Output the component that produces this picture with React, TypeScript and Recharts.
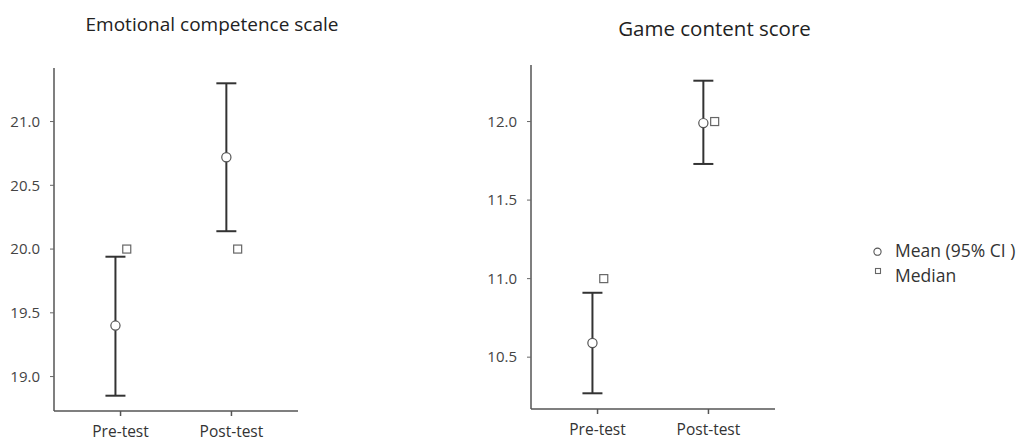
import React from "react";
import { ScatterChart, Scatter, XAxis, YAxis, ErrorBar } from "recharts";

const categories = ["Pre-test", "Post-test"];

const emoMean = [19.4, 20.72];
const emoLow = [18.85, 20.14];
const emoHigh = [19.94, 21.3];
const emoMedian = [20.0, 20.0];
const emoTicks = [19.0, 19.5, 20.0, 20.5, 21.0];

const gameMean = [10.59, 11.99];
const gameLow = [10.27, 11.73];
const gameHigh = [10.91, 12.26];
const gameMedian = [11.0, 12.0];
const gameTicks = [10.5, 11.0, 11.5, 12.0];

const FONT = "'Open Sans', 'Noto Sans', sans-serif";
const MEAN_DODGE = -0.046;
const MEDIAN_DODGE = 0.056;

type PanelProps = {
  mean: number[];
  low: number[];
  high: number[];
  median: number[];
  ticks: number[];
  domain: [number, number];
  left: number;
  width: number;
  top: number;
  bottom: number;
  yAxisWidth: number;
  right: number;
};

const MeanShape = (p: any) => (
  <circle cx={p.cx} cy={p.cy} r={4.6} fill="#fff" stroke="#555" strokeWidth={1.2} />
);
const MedianShape = (p: any) => (
  <rect x={p.cx - 4} y={p.cy - 4} width={8} height={8} fill="#fff" stroke="#666" strokeWidth={1.2} />
);
const NoShape = () => <g />;

function Panel(props: PanelProps) {
  const meanData = categories.map((c, i) => ({
    x: i + 1 + MEAN_DODGE,
    y: props.mean[i],
    err: [props.mean[i] - props.low[i], props.high[i] - props.mean[i]],
  }));
  const medianData = categories.map((c, i) => ({
    x: i + 1 + MEDIAN_DODGE,
    y: props.median[i],
  }));
  return (
    <div style={{ position: "absolute", left: props.left, top: 0, width: props.width, height: 441 }}>
      <ScatterChart
        width={props.width}
        height={441}
        margin={{ top: props.top, right: props.right, bottom: 0, left: 0 }}
      >
        <XAxis
          type="number"
          dataKey="x"
          domain={[0.4, 2.6]}
          ticks={[1, 2]}
          allowDataOverflow
          tickFormatter={(v: number) => categories[Math.round(v) - 1] ?? ""}
          height={props.bottom}
          axisLine={{ stroke: "#555", strokeWidth: 1.5 }}
          tickLine={{ stroke: "#555", strokeWidth: 1.5 }}
          tickSize={5}
          tickMargin={10}
          tick={{ fill: "#333", fontSize: 15.5, fontFamily: FONT }}
        />
        <YAxis
          type="number"
          dataKey="y"
          domain={props.domain}
          ticks={props.ticks}
          allowDataOverflow
          width={props.yAxisWidth}
          tickFormatter={(v: number) => v.toFixed(1)}
          axisLine={{ stroke: "#555", strokeWidth: 1.5 }}
          tickLine={{ stroke: "#666", strokeWidth: 1 }}
          tickSize={4}
          tickMargin={10}
          tick={{ fill: "#444", fontSize: 15, fontFamily: FONT }}
        />
        <Scatter data={meanData} shape={NoShape} isAnimationActive={false}>
          <ErrorBar dataKey="err" direction="y" width={10} stroke="#333" strokeWidth={2} />
        </Scatter>
        <Scatter data={meanData} shape={MeanShape} isAnimationActive={false} />
        <Scatter data={medianData} shape={MedianShape} isAnimationActive={false} />
      </ScatterChart>
    </div>
  );
}

export default function App() {
  return (
    <div style={{ position: "absolute", left: 0, top: 0, width: 1020, height: 441, background: "#fff" }}>
      <Panel
        mean={emoMean}
        low={emoLow}
        high={emoHigh}
        median={emoMedian}
        ticks={emoTicks}
        domain={[18.73, 21.42]}
        left={0}
        width={320}
        top={68}
        bottom={30}
        yAxisWidth={54}
        right={22}
      />
      <Panel
        mean={gameMean}
        low={gameLow}
        high={gameHigh}
        median={gameMedian}
        ticks={gameTicks}
        domain={[10.17, 12.36]}
        left={470}
        width={320}
        top={65}
        bottom={32}
        yAxisWidth={61}
        right={15}
      />
      <svg style={{ position: "absolute", left: 0, top: 0, pointerEvents: "none" }} width={1020} height={60}>
        <text x={212} y={31} textAnchor="middle" fontFamily={FONT} fontSize={19} fill="#222">
          Emotional competence scale
        </text>
        <text x={714.5} y={36} textAnchor="middle" fontFamily={FONT} fontSize={20.5} fill="#222">
          Game content score
        </text>
      </svg>
      <svg style={{ position: "absolute", left: 860, top: 230 }} width={160} height={70}>
        <circle cx={17.5} cy={21.7} r={3.6} fill="#fff" stroke="#555" strokeWidth={1.1} />
        <text x={35} y={26.7} fontFamily={FONT} fontSize={17.5} fill="#333">
          Mean (95% CI )
        </text>
        <rect x={15.5} y={38.5} width={5} height={5} fill="#fff" stroke="#666" strokeWidth={1.1} />
        <text x={35} y={51.7} fontFamily={FONT} fontSize={17.5} fill="#333">
          Median
        </text>
      </svg>
    </div>
  );
}
